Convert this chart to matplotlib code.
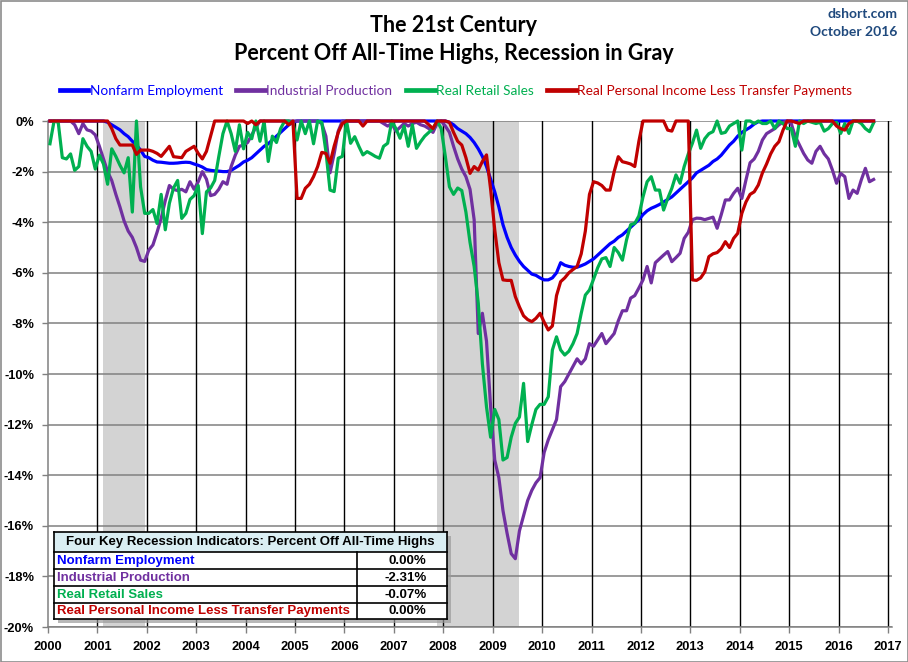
import matplotlib
matplotlib.use("Agg")
import matplotlib.pyplot as plt
import numpy as np
import pandas as pd
from matplotlib.patches import Rectangle
from matplotlib.lines import Line2D

# ---------------- data (percent off all-time highs, monthly 2000-01 .. 2016-09) ----------------
months = pd.date_range("2000-01-01", "2016-09-01", freq="MS")

nonfarm_employment = (
    [0] * 12 +                                                                         # 2000
    [0, 0, -0.05, -0.15, -0.25, -0.35, -0.5, -0.62, -0.8, -0.95, -1.15, -1.4] +        # 2001
    [-1.45, -1.55, -1.62, -1.63, -1.65, -1.67, -1.67, -1.66, -1.64, -1.63, -1.64, -1.7] +
    [-1.75, -1.82, -1.92, -1.95, -1.97, -1.98, -2.0, -2.0, -1.95, -1.85, -1.75, -1.62] +
    [-1.55, -1.45, -1.3, -1.15, -1.0, -0.9, -0.75, -0.6, -0.45, -0.3, -0.15, -0.05] +
    [0] * 36 +                                                                         # 2005-2007
    [0, -0.05, -0.15, -0.3, -0.4, -0.5, -0.65, -0.85, -1.1, -1.4, -1.8, -2.3] +        # 2008
    [-2.8, -3.4, -4.1, -4.6, -5.0, -5.3, -5.55, -5.75, -5.9, -6.05, -6.1, -6.2] +
    [-6.28, -6.28, -6.2, -6.0, -5.6, -5.7, -5.75, -5.78, -5.78, -5.72, -5.65, -5.55] +
    [-5.45, -5.3, -5.15, -5.0, -4.85, -4.75, -4.6, -4.5, -4.35, -4.2, -4.05, -3.9] +
    [-3.7, -3.55, -3.45, -3.38, -3.3, -3.2, -3.1, -3.0, -2.85, -2.7, -2.55, -2.4] +
    [-2.25, -2.05, -1.95, -1.85, -1.75, -1.6, -1.5, -1.35, -1.15, -0.95, -0.8, -0.6] +
    [-0.45, -0.35, -0.25, -0.12, -0.03, 0, 0, 0, 0, 0, 0, 0] +
    [0] * 12 +
    [0] * 9
)

industrial_production = (
    [0, 0, 0, 0, 0, 0, -0.15, -0.5, -0.1, -0.35, -0.4, -0.55] +
    [-1.0, -1.5, -2.0, -2.35, -2.9, -3.4, -3.95, -4.35, -4.6, -5.0, -5.5, -5.55] +
    [-5.1, -4.9, -4.4, -3.85, -3.15, -2.55, -2.7, -2.75, -2.7, -2.8, -2.4, -2.7] +
    [-2.4, -2.0, -2.3, -2.95, -2.9, -2.7, -2.4, -2.5, -1.8, -1.35, -1.0, -0.95] +
    [-0.85, -0.55, -0.25, 0, 0, 0, 0, 0, 0, 0, 0, 0] +
    [0, 0, 0, 0, 0, 0, -0.1, -0.6, -2.05, -1.3, -0.4, 0] +
    [0, 0, 0, 0, 0, 0, 0, 0, 0, -0.1, -0.2, -0.1] +
    [-0.4, -0.25, -0.1, -0.2, -0.1, -0.05, -0.15, -0.2, -0.3, -0.45, -0.1, 0] +
    [-0.2, -0.45, -1.0, -1.5, -1.9, -2.2, -2.7, -3.9, -8.4, -7.6, -8.7, -11.3] +
    [-13.4, -14.1, -15.4, -16.3, -17.1, -17.3, -16.2, -15.6, -15.0, -14.6, -14.3, -14.1] +
    [-13.1, -12.6, -12.2, -11.8, -10.5, -10.3, -10.0, -9.7, -9.4, -9.6, -9.4, -8.8] +
    [-8.9, -8.65, -8.4, -8.8, -8.6, -8.4, -7.9, -7.5, -7.5, -7.0, -6.9, -6.6] +
    [-6.28, -5.75, -6.4, -5.6, -5.45, -5.3, -5.16, -5.56, -5.4, -5.23, -4.64, -4.4] +
    [-3.9, -3.84, -3.85, -3.9, -3.85, -3.8, -4.24, -3.7, -3.12, -3.12, -2.86, -2.66] +
    [-3.06, -2.33, -1.65, -1.5, -1.2, -0.75, -0.5, -0.4, -0.3, -0.15, -0.05, 0] +
    [-0.1, -0.62, -0.95, -1.28, -1.54, -1.67, -1.2, -1.0, -1.3, -1.5, -1.94, -2.46] +
    [-2.07, -2.2, -3.06, -2.73, -2.86, -2.33, -1.87, -2.4, -2.31]
)

real_retail_sales = (
    [-0.9, 0, -0.05, -1.45, -1.5, -1.3, -1.95, -1.8, -0.7, -1.0, -1.2, -1.9] +
    [-1.35, -1.7, -2.5, -1.1, -1.4, -1.75, -2.05, -1.45, -3.6, 0, -2.6, -3.65] +
    [-3.65, -3.5, -4.05, -2.9, -4.3, -3.25, -2.65, -2.35, -3.85, -3.65, -3.1, -2.95] +
    [-2.55, -4.45, -2.8, -2.65, -2.35, -1.4, -0.5, 0, -0.5, -1.2, -0.15, -1.1] +
    [-0.45, -0.7, 0, -0.8, 0, -1.6, -0.6, -0.85, -0.3, 0, 0, -0.1] +
    [-0.75, 0, -0.5, 0, -0.9, 0, -0.05, -1.2, -2.73, -2.79, -1.47, -1.4] +
    [0, -0.88, -0.62, -1.0, -1.34, -1.21, -1.3, -1.4, -1.47, -1.0, -0.88, 0] +
    [-0.3, -0.68, -0.2, -1.0, -0.15, -1.08, -0.82, -0.6, -0.45, -0.3, 0, -0.3] +
    [-1.4, -2.6, -2.9, -2.65, -2.75, -3.6, -4.8, -5.75, -7.2, -9.6, -11.3, -12.5] +
    [-11.4, -11.8, -13.4, -13.3, -12.5, -11.95, -11.7, -10.37, -12.67, -12.0, -11.4, -11.2] +
    [-11.2, -10.9, -9.05, -8.53, -9.05, -9.25, -9.1, -8.8, -8.4, -7.6, -6.88, -6.68] +
    [-6.25, -5.8, -5.45, -5.4, -5.75, -5.0, -5.2, -5.5, -4.7, -4.1, -4.05, -3.75] +
    [-3.0, -2.4, -2.2, -2.73, -2.73, -3.52, -3.06, -2.66, -2.13, -2.46, -1.8, -1.3] +
    [-0.88, -0.36, -1.08, -0.7, -0.5, -0.42, 0, -0.49, -0.45, -0.2, -0.1, 0] +
    [-1.15, 0, 0, -0.1, 0, -0.1, -0.1, 0, -0.3, 0, -0.1, -0.3] +
    [-0.3, -1.0, 0, -0.1, 0, -0.05, -0.1, -0.05, -0.4, -0.3, -0.1, -0.05] +
    [-0.49, -0.1, -0.49, 0, 0, -0.1, -0.3, -0.42, -0.07]
)

real_personal_income = (
    [0] * 12 +
    [0, 0, 0, -0.3, -0.7, -0.95, -0.95, -0.95, -0.95, -1.32, -1.15, -1.15] +
    [-1.15, -1.2, -1.28, -1.4, -1.2, -1.0, -1.41, -1.43, -1.45, -1.2, -1.1, -1.0] +
    [-1.28, -1.5, -1.2, -0.6, 0, 0, 0, 0, 0, 0, 0, 0] +
    [-0.1, 0, -0.15, 0, 0, 0, 0, 0, 0, 0, -0.15, 0] +
    [-3.06, -3.06, -2.66, -2.5, -2.2, -1.8, -1.24, -1.28, -1.67, -1.0, -0.45, -0.1] +
    [0, 0, 0, 0, -0.2, 0, 0, 0, 0, 0, 0, 0] +
    [0, 0, 0, 0, 0, 0, 0, 0, -0.15, -0.3, 0, 0] +
    [0, -0.05, -0.45, -0.8, -0.95, -1.45, -2.07, -1.8, -1.94, -1.6, -1.34, -2.7] +
    [-4.3, -5.6, -6.28, -6.3, -6.3, -6.94, -7.35, -7.7, -7.85, -7.93, -7.8, -7.6] +
    [-7.95, -8.26, -8.1, -6.9, -6.35, -6.2, -6.0, -5.87, -5.75, -5.25, -4.35, -2.9] +
    [-2.4, -2.45, -2.55, -2.73, -2.73, -2.0, -1.41, -1.61, -1.65, -1.7, -1.8, -0.8] +
    [0, 0, 0, 0, 0, 0, -0.36, -0.4, 0, 0, 0, 0] +
    [-6.28, -6.3, -6.2, -5.96, -5.36, -5.25, -5.2, -5.05, -4.77, -5.0, -4.64, -4.44] +
    [-3.65, -3.2, -2.9, -2.8, -2.53, -2.05, -1.7, -1.3, -1.0, -0.82, -0.36, 0] +
    [0, -0.05, -0.1, 0, 0, 0, 0, 0, 0, 0, 0, -0.2] +
    [-0.3, -0.36, -0.1, 0, 0, 0, 0, 0, 0]
)

series_names = ["Nonfarm Employment", "Industrial Production", "Real Retail Sales",
                "Real Personal Income Less Transfer Payments"]
series_colors = ["#0000FF", "#7030A0", "#00B050", "#C00000"]
series_values = [nonfarm_employment, industrial_production, real_retail_sales, real_personal_income]

latest_values = ["0.00%", "-2.31%", "-0.07%", "0.00%"]
table_title = "Four Key Recession Indicators: Percent Off All-Time Highs"

recessions = [("2001-03", "2001-11"), ("2007-12", "2009-06")]

year_ticks = list(range(2000, 2018))
year_labels = [str(y) for y in year_ticks]
pct_ticks = list(range(0, -21, -2))
pct_labels = [f"{v}%" for v in pct_ticks]

title_lines = ["The 21st Century", "Percent Off All-Time Highs, Recession in Gray"]
source_text = ["dshort.com", "October 2016"]

# ---------------- drawing ----------------
NARROW = ["Lato", "DejaVu Sans"]
SANS = ["Liberation Sans", "DejaVu Sans"]


def frac_year(ts):
    ts = pd.DatetimeIndex(ts)
    return np.asarray(ts.year + (ts.month - 0.5) / 12.0, dtype=float)


x = frac_year(months)

fig = plt.figure(figsize=(9.08, 6.62), dpi=100)
ax = fig.add_axes([47.9 / 908, 1 - 627 / 662, (892 - 47.9) / 908, (627 - 121) / 662])

# recession shading
for start, end in recessions:
    xs = frac_year([pd.Timestamp(start)])[0] - 1 / 12
    xe = frac_year([pd.Timestamp(end)])[0] + 1 / 12
    ax.axvspan(xs, xe, color="#D3D3D3", lw=0, zorder=0)

# grid
for v in pct_ticks:
    ax.axhline(v, color="#808080", lw=1.1, zorder=1)
for yv in year_ticks[1:]:
    ax.axvline(yv, color="black", lw=1.0, zorder=1)

for name, col, vals in zip(series_names, series_colors, series_values):
    ax.plot(x, vals, color=col, lw=2.3, solid_joinstyle="round", zorder=3,
            clip_on=False, label=name)

ax.set_xlim(2000, 2000 + (892 - 47.9) / 49.42)
ax.set_ylim(-20, 0)
ax.set_xticks(year_ticks)
ax.set_xticklabels(year_labels)
ax.set_yticks(pct_ticks)
ax.set_yticklabels(pct_labels)
for sp in ["top", "right"]:
    ax.spines[sp].set_visible(False)
for sp in ["left", "bottom"]:
    ax.spines[sp].set_color("#808080")
    ax.spines[sp].set_linewidth(1.1)
ax.tick_params(direction="out", length=4, width=1, color="#808080", pad=6)
for lab in ax.get_xticklabels() + ax.get_yticklabels():
    lab.set_fontfamily(SANS)
    lab.set_fontweight("bold")
    lab.set_fontsize(9.3)
ax.set_facecolor("white")

# titles
fig.text(0.5, 1 - 25 / 662, title_lines[0], ha="center", va="center",
         fontsize=15.5, fontweight="bold", family=NARROW)
fig.text(0.5, 1 - 54 / 662, title_lines[1], ha="center", va="center",
         fontsize=15.5, fontweight="bold", family=NARROW)
fig.text(897 / 908, 1 - 14 / 662, source_text[0], ha="right", va="center",
         fontsize=10, fontweight="bold", color="#1F497D", family=NARROW)
fig.text(897 / 908, 1 - 32 / 662, source_text[1], ha="right", va="center",
         fontsize=10, fontweight="bold", color="#1F497D", family=NARROW)

# legend
leg_handles = [Line2D([0], [0], color=c, lw=3.4) for c in series_colors]
leg = fig.legend(leg_handles, series_names, loc="center", ncol=4,
                 bbox_to_anchor=(456 / 908, 1 - 91 / 662), frameon=False,
                 handlelength=2.1, handletextpad=0.1, columnspacing=1.0,
                 prop={"family": NARROW, "size": 9.8})
for t, c in zip(leg.get_texts(), series_colors):
    t.set_color(c)

# summary table
tl, tr, tt, tb = 54.3, 446.7, 531.7, 619.0
W, H = tr - tl, tb - tt
tax = fig.add_axes([tl / 908, 1 - tb / 662, W / 908, H / 662])
tax.set_xlim(0, W)
tax.set_ylim(H, 0)
tax.axis("off")
tax.add_patch(Rectangle((4, 4), W, H, facecolor="#9A9A9A", edgecolor="none",
                        alpha=0.7, clip_on=False, zorder=0))
tax.add_patch(Rectangle((0, 0), W, H, facecolor="white", edgecolor="none",
                        clip_on=False, zorder=1))
row_edges = [0, 20, 37, 54, 71, H]
tax.add_patch(Rectangle((0, 0), W, 20, facecolor="#DAEEF3", edgecolor="none",
                        clip_on=False, zorder=1))
for ry in row_edges:
    tax.plot([0, W], [ry, ry], color="black", lw=1.2, clip_on=False, zorder=2)
tax.plot([0, 0], [0, H], color="black", lw=1.2, clip_on=False, zorder=2)
tax.plot([W, W], [0, H], color="black", lw=1.2, clip_on=False, zorder=2)
colx = 357.3 - tl
tax.plot([colx, colx], [20, H], color="black", lw=1.2, clip_on=False, zorder=2)
tax.text(W / 2, 10.5, table_title, ha="center", va="center", fontsize=9.5,
         fontweight="bold", family=SANS, zorder=3)
for i, (name, col, val) in enumerate(zip(series_names, series_colors, latest_values)):
    yc = (row_edges[i + 1] + row_edges[i + 2]) / 2 + 0.5
    tax.text(3, yc, name, ha="left", va="center", fontsize=9.5, fontweight="bold",
             color=col, family=SANS, zorder=3)
    tax.text(372.4, yc, val, ha="right", va="center", fontsize=9.5, fontweight="bold",
             color="black", family=SANS, zorder=3)

# figure border
fig.patches.append(Rectangle((0.5 / 908, 0.5 / 662), 1 - 1 / 908, 1 - 1 / 662,
                             transform=fig.transFigure, fill=False,
                             edgecolor="#8C8C8C", lw=1.2))

fig.savefig("out.png", dpi=100, facecolor="white")
